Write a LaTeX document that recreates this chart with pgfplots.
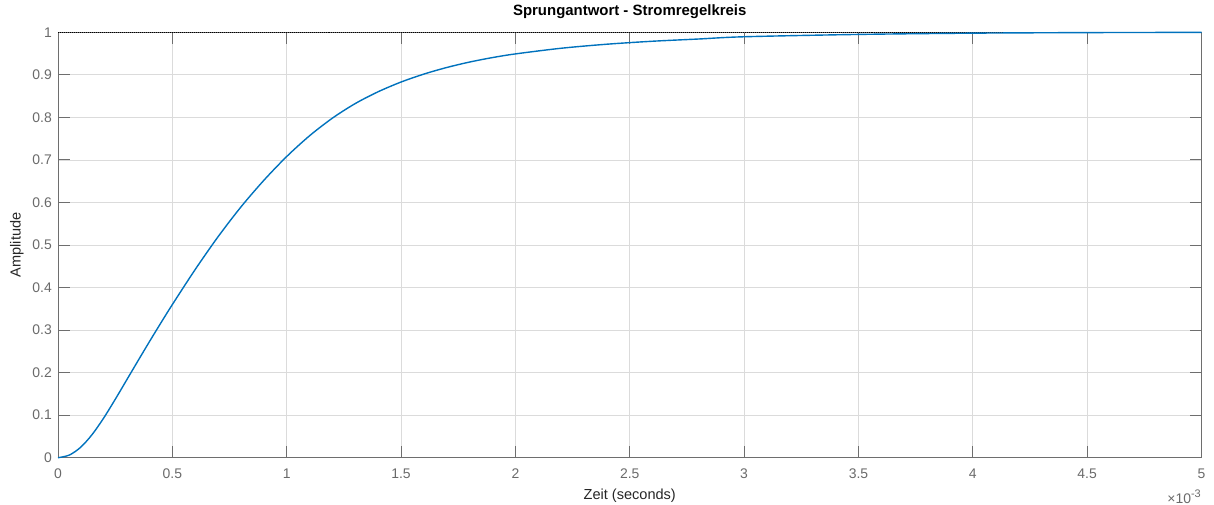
\documentclass[border=0pt]{standalone}
\usepackage{fontspec}
\setmainfont{Liberation Sans}
\usepackage{pgfplots}
\pgfplotsset{compat=1.18}
\definecolor{mblue}{HTML}{0072BD}
\definecolor{axgray}{HTML}{6E6E6E}
\definecolor{tkgray}{HTML}{6A6A6A}
\definecolor{grd}{HTML}{DBDBDB}
\pgfplotstableread{
t y
0 0
0.05 0.0063
0.1 0.025
0.15 0.055
0.2 0.0935
0.25 0.137
0.3 0.1825
0.35 0.228
0.4 0.273
0.45 0.317
0.5 0.360
0.6 0.4425
0.7 0.5195
0.8 0.5895
0.9 0.652
1.0 0.708
1.1 0.7568
1.2 0.7983
1.3 0.8326
1.4 0.8603
1.5 0.8831
1.6 0.9018
1.7 0.9173
1.8 0.9301
1.9 0.9406
2.0 0.9492
2.2 0.9625
2.4 0.9720
2.6 0.9790
2.8 0.9842
3.0 0.9895
3.5 0.9950
4.0 0.9980
4.5 0.9993
5.0 0.9998
}\stepdata
\begin{document}
\begin{tikzpicture}
\begin{axis}[
  scale only axis, width=1143.5bp, height=425.4bp,
  xmin=0, xmax=5, ymin=0, ymax=1,
  xtick={0,0.5,1,1.5,2,2.5,3,3.5,4,4.5,5},
  xticklabels={0,0.5,1,1.5,2,2.5,3,3.5,4,4.5,5},
  ytick={0,0.1,0.2,0.3,0.4,0.5,0.6,0.7,0.8,0.9,1},
  yticklabels={0,0.1,0.2,0.3,0.4,0.5,0.6,0.7,0.8,0.9,1},
  tick align=inside, major tick length=11.5bp,
  grid=major, major grid style={grd, line width=0.8bp},
  axis line style={axgray, line width=0.9bp},
  every tick/.style={axgray, line width=0.9bp},
  tick label style={font=\fontsize{14}{16}\selectfont, text=tkgray, inner sep=0pt},
  xticklabel style={anchor=base, yshift=-20.5bp},
  yticklabel style={anchor=east, xshift=-6bp},
  title={Sprungantwort - Stromregelkreis},
  title style={at={(axis description cs:0.5,1)}, anchor=base, yshift=11.3bp, inner sep=0pt,
    font=\fontsize{15}{17}\selectfont\bfseries, text=black},
  xlabel={Zeit (seconds)},
  xlabel style={at={(axis description cs:0.5,0)}, anchor=base, yshift=-41.3bp, inner sep=0pt,
    font=\fontsize{14.6}{16}\selectfont, text=black!85},
  ylabel={Amplitude},
  ylabel style={at={([xshift=-37.3bp]axis description cs:0,0.5)}, anchor=base, rotate=0, inner sep=0pt,
    font=\fontsize{14.6}{16}\selectfont, text=black!85},
  clip=false,
]
\addplot[black, densely dotted, line width=1bp, forget plot] coordinates {(0,1) (5,1)};
\addplot[mblue, line width=1.4bp, smooth] table[x=t, y=y] {\stepdata};
\node[anchor=base east, inner sep=0pt, text=tkgray, font=\fontsize{14}{16}\selectfont]
  at ([yshift=-45.3bp]rel axis cs:1,0) {\texttimes10\textsuperscript{\fontsize{11}{12}\selectfont -3}};
\end{axis}
\pgfresetboundingbox
\path ([xshift=-58bp, yshift=-46.3bp]current axis.south west) rectangle ([xshift=12.5bp, yshift=32.3bp]current axis.north east);
\end{tikzpicture}
\end{document}
